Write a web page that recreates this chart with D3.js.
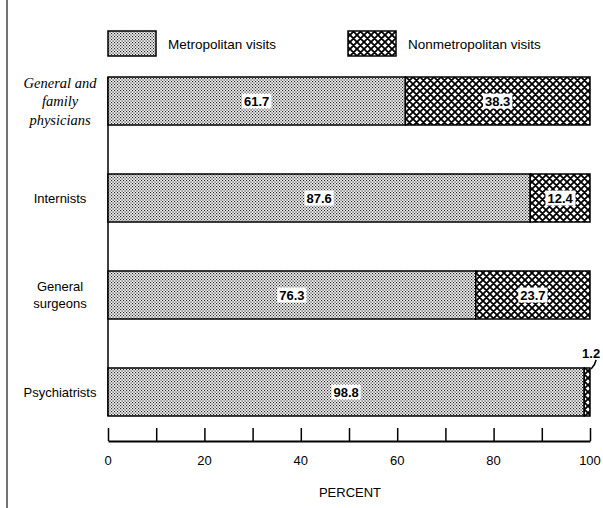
<!DOCTYPE html>
<html>
<head>
<meta charset="utf-8">
<script src="https://cdn.jsdelivr.net/npm/d3@7"></script>
<style>
  html, body { margin: 0; padding: 0; background: #fff; }
  svg { display: block; }
</style>
</head>
<body>
<script>
// ---- data ----
const categories = ["General and family physicians", "Internists", "General surgeons", "Psychiatrists"];
const categoryLines = [["General and", "family", "physicians"], ["Internists"], ["General", "surgeons"], ["Psychiatrists"]];
const metroValues = [61.7, 87.6, 76.3, 98.8];
const nonmetroValues = [38.3, 12.4, 23.7, 1.2];
const seriesNames = ["Metropolitan visits", "Nonmetropolitan visits"];
const tickValues = [0, 10, 20, 30, 40, 50, 60, 70, 80, 90, 100];
const tickLabels = ["0", "", "20", "", "40", "", "60", "", "80", "", "100"];
const axisTitle = "PERCENT";

// ---- setup ----
const W = 603, H = 508;
const svg = d3.select("body").append("svg").attr("width", W).attr("height", H);
const sans = "'Liberation Sans', Arial, sans-serif";
const serif = "'Liberation Serif', 'DejaVu Serif', serif";

const defs = svg.append("defs");
// stipple pattern (metropolitan)
const p1 = defs.append("pattern").attr("id", "stipple").attr("patternUnits", "userSpaceOnUse")
  .attr("width", 3).attr("height", 3);
p1.append("rect").attr("width", 3).attr("height", 3).attr("fill", "#f2f2f2");
p1.append("rect").attr("x", 0).attr("y", 0).attr("width", 1.15).attr("height", 1.15).attr("fill", "#222");
p1.append("rect").attr("x", 1.5).attr("y", 1.5).attr("width", 1.15).attr("height", 1.15).attr("fill", "#222");
// crosshatch pattern (nonmetropolitan)
const p2 = defs.append("pattern").attr("id", "hatch").attr("patternUnits", "userSpaceOnUse")
  .attr("width", 7).attr("height", 7);
p2.append("rect").attr("width", 7).attr("height", 7).attr("fill", "#fff");
p2.append("path").attr("d", "M-1,-1 L8,8 M6,-1 L8,1 M-1,6 L1,8 M8,-1 L-1,8 M1,-1 L-1,1 M8,6 L6,8")
  .attr("stroke", "#000").attr("stroke-width", 1.8);

const x = d3.scaleLinear().domain([0, 100]).range([108, 590]);
const y = d3.scaleBand().domain(categories).range([77, 416]).paddingInner(0.505).paddingOuter(0);

// left page border
svg.append("line").attr("x1", 7).attr("x2", 7).attr("y1", 0).attr("y2", H)
  .attr("stroke", "#444").attr("stroke-width", 1.5);

// legend
const legend = [
  { name: seriesNames[0], fill: "url(#stipple)", bx: 108, tx: 168 },
  { name: seriesNames[1], fill: "url(#hatch)", bx: 348, tx: 408 }
];
legend.forEach(l => {
  svg.append("rect").attr("x", l.bx).attr("y", 31).attr("width", 48).attr("height", 25)
    .attr("fill", l.fill).attr("stroke", "#000").attr("stroke-width", 1.5);
  svg.append("text").attr("x", l.tx).attr("y", 44).attr("dy", "0.35em")
    .attr("font-family", sans).attr("font-size", 13.5).text(l.name);
});

// vertical baseline
svg.append("line").attr("x1", x(0)).attr("x2", x(0))
  .attr("y1", y.range()[0]).attr("y2", y.range()[1])
  .attr("stroke", "#000").attr("stroke-width", 1.5);

// bars
const rows = categories.map((c, i) => ({ c, i, m: metroValues[i], n: nonmetroValues[i] }));
const g = svg.append("g");
rows.forEach(r => {
  const yy = y(r.c), h = y.bandwidth();
  g.append("rect").attr("x", x(0)).attr("y", yy).attr("width", x(r.m) - x(0)).attr("height", h)
    .attr("fill", "url(#stipple)").attr("stroke", "#000").attr("stroke-width", 1.5);
  g.append("rect").attr("x", x(r.m)).attr("y", yy).attr("width", x(r.m + r.n) - x(r.m)).attr("height", h)
    .attr("fill", "url(#hatch)").attr("stroke", "#000").attr("stroke-width", 1.5);
});

// value labels
function valueLabel(cx, cy, txt) {
  const t = svg.append("text").attr("x", cx).attr("y", cy).attr("dy", "0.35em")
    .attr("text-anchor", "middle").attr("font-family", sans).attr("font-size", 13)
    .attr("font-weight", "bold").text(txt);
  const bb = t.node().getBBox();
  svg.insert("rect", () => t.node()).attr("x", bb.x - 2).attr("y", bb.y).attr("width", bb.width + 4)
    .attr("height", bb.height).attr("fill", "#fff");
}
rows.forEach(r => {
  const cy = y(r.c) + y.bandwidth() / 2;
  valueLabel((x(0) + x(r.m)) / 2, cy, r.m.toFixed(1));
  const segW = x(r.m + r.n) - x(r.m);
  if (segW > 30) {
    valueLabel((x(r.m) + x(r.m + r.n)) / 2, cy, r.n.toFixed(1));
  } else {
    const cx = (x(r.m) + x(r.m + r.n)) / 2;
    svg.append("text").attr("x", cx + 4).attr("y", y(r.c) - 15).attr("dy", "0.35em")
      .attr("text-anchor", "middle").attr("font-family", sans).attr("font-size", 13)
      .attr("font-weight", "bold").text(r.n.toFixed(1));
    svg.append("path")
      .attr("d", `M${cx + 9},${y(r.c) - 8} Q${cx + 8},${y(r.c) - 3} ${cx + 4},${y(r.c) + 1}`)
      .attr("fill", "none").attr("stroke", "#000").attr("stroke-width", 1.5);
  }
});

// category labels
categoryLines.forEach((lines, i) => {
  const cy = y(categories[i]) + y.bandwidth() / 2;
  const italic = i === 0;
  const lh = italic ? 18.5 : 16.5;
  const t = svg.append("text").attr("text-anchor", "middle")
    .attr("font-family", italic ? serif : sans).attr("font-size", italic ? 14.5 : 13)
    .attr("font-style", italic ? "italic" : "normal");
  lines.forEach((ln, k) => {
    t.append("tspan").attr("x", 60)
      .attr("y", cy + (k - (lines.length - 1) / 2) * lh).attr("dy", "0.35em").text(ln);
  });
});

// x axis
const axis = d3.axisTop(x).tickValues(tickValues).tickSize(13).tickFormat("").tickSizeOuter(0);
const ag = svg.append("g").attr("transform", "translate(0,441)").call(axis);
ag.select(".domain").attr("stroke", "#000").attr("stroke-width", 2);
ag.selectAll(".tick line").attr("stroke", "#000").attr("stroke-width", 1.5);
svg.selectAll(".ticklab").data(tickValues).enter().append("text")
  .attr("x", d => x(d)).attr("y", 460).attr("dy", "0.35em").attr("text-anchor", "middle")
  .attr("font-family", sans).attr("font-size", 13).text((d, i) => tickLabels[i]);

svg.append("text").attr("x", 350).attr("y", 492).attr("dy", "0.35em").attr("text-anchor", "middle")
  .attr("font-family", sans).attr("font-size", 13).text(axisTitle);
</script>
</body>
</html>
